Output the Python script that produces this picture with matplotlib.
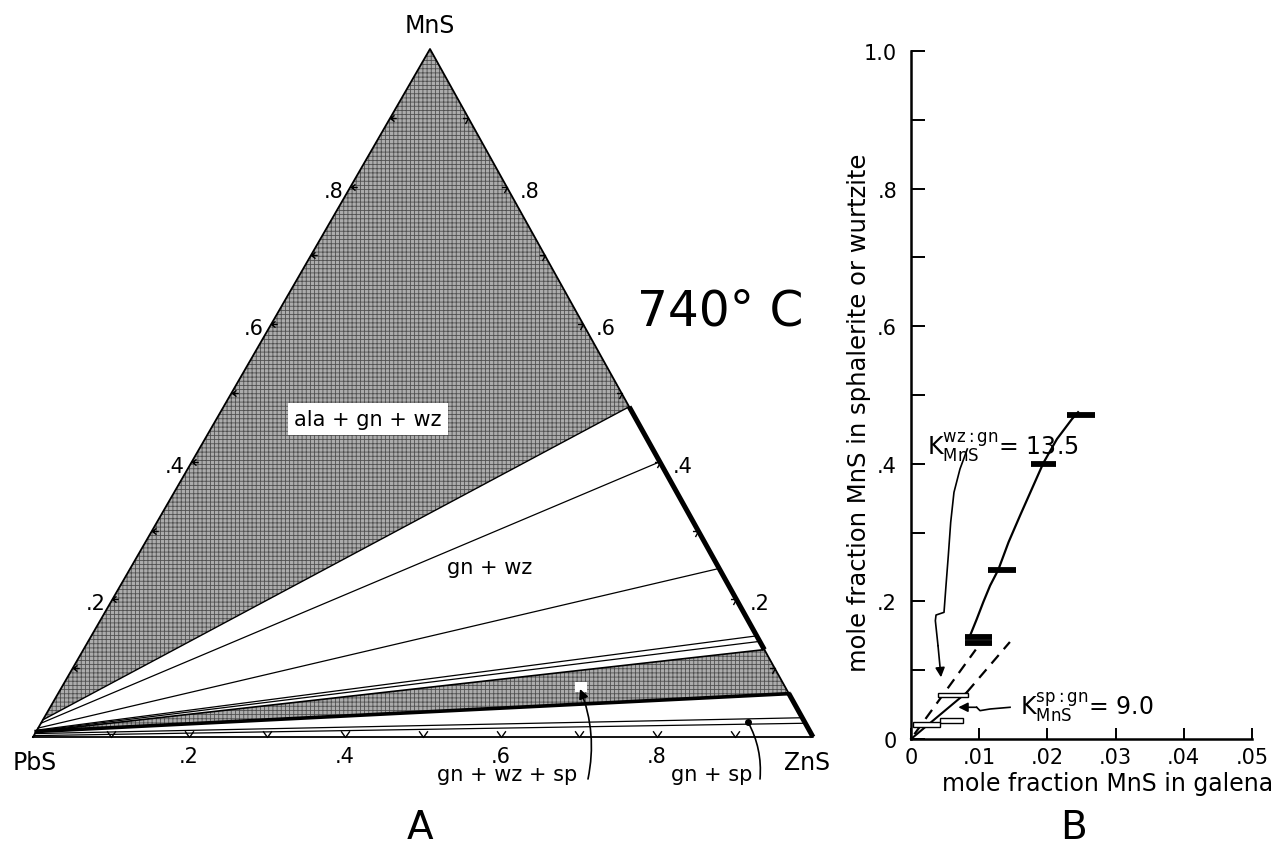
import matplotlib
matplotlib.use('Agg')
import matplotlib.pyplot as plt
from matplotlib.path import Path
from matplotlib.patches import Polygon, Rectangle

plt.rcParams['font.family'] = ['DejaVu Sans']
plt.rcParams['hatch.linewidth'] = 0.6
plt.rcParams['mathtext.default'] = 'regular'

W, H = 1274, 854

# ---------------- Panel A data: PbS-ZnS-MnS at 740 C (mole fraction MnS) ----------------
corner_names = ['PbS', 'ZnS', 'MnS']
tri_tick_vals = [0.2, 0.4, 0.6, 0.8]
tri_tick_labels = ['.2', '.4', '.6', '.8']
tri_minor_vals = [0.1, 0.2, 0.3, 0.4, 0.5, 0.6, 0.7, 0.8, 0.9]
# three-phase field ala + gn + wz (MnS in galena, MnS in wurtzite)
ala_gn_wz_gn = 0.025
ala_gn_wz_wz = 0.48
# tie lines gn + wz
tie_wz_gn = [0.020, 0.013, 0.010, 0.009]
tie_wz_wz = [0.40, 0.245, 0.147, 0.139]
# three-phase field gn + wz + sp
gn_wz_sp_gn = 0.008
gn_wz_sp_wz = 0.127
gn_wz_sp_sp = 0.063
# tie lines gn + sp
tie_sp_gn = [0.005, 0.002]
tie_sp_sp = [0.028, 0.020]
# solid-solution ranges on the ZnS-MnS join
wz_range = [0.127, 0.48]
sp_range = [0.0, 0.063]

# ---------------- Panel B data ----------------
xb_ticks = [0.0, 0.01, 0.02, 0.03, 0.04, 0.05]
xb_labels = ['0', '.01', '.02', '.03', '.04', '.05']
yb_ticks = [0.0, 0.2, 0.4, 0.6, 0.8, 1.0]
yb_labels = ['0', '.2', '.4', '.6', '.8', '1.0']
yb_minor = [0.1, 0.3, 0.5, 0.7, 0.9]
# wurtzite - galena pairs (filled bars)
wz_bar_y = [0.471, 0.400, 0.245, 0.148, 0.139]
wz_bar_lo = [0.0229, 0.0176, 0.0113, 0.0079, 0.0079]
wz_bar_hi = [0.0270, 0.0213, 0.0154, 0.0119, 0.0119]
# sphalerite - galena pairs (open bars)
sp_bar_y = [0.064, 0.0265, 0.021]
sp_bar_lo = [0.0040, 0.0043, 0.0003]
sp_bar_hi = [0.0084, 0.0076, 0.0043]
# curve through wurtzite data
wz_curve_x = [0.00865, 0.00963, 0.0106, 0.0116, 0.0128, 0.0143, 0.0160, 0.0177, 0.0194, 0.0214, 0.0236, 0.0245]
wz_curve_y = [0.150, 0.174, 0.199, 0.223, 0.246, 0.286, 0.325, 0.363, 0.401, 0.436, 0.465, 0.475]
# sphalerite line (solid) and K lines (dashed)
sp_line_x = [0.0, 0.0082]
sp_line_y = [0.0, 0.068]
sp_dash_x = [0.0082, 0.0145]
sp_dash_y = [0.068, 0.141]
wz_dash_x = [0.0005, 0.0095]
wz_dash_y = [0.007, 0.130]
# annotation arrows
k_wz_arrow_x = [0.00826, 0.00718, 0.00630, 0.00582, 0.00547, 0.00513, 0.00484, 0.00367, 0.00357, 0.00396, 0.00440]
k_wz_arrow_y = [0.4215, 0.3924, 0.3585, 0.3149, 0.2665, 0.2229, 0.1841, 0.1802, 0.1720, 0.1357, 0.0897]
k_sp_arrow_x = [0.01452, 0.01158, 0.01012, 0.00963, 0.00694]
k_sp_arrow_y = [0.0461, 0.0436, 0.0412, 0.0461, 0.0461]

fig = plt.figure(figsize=(12.74, 8.54), dpi=100)

# ================= Panel A =================
TX0, TX1, TY0, TY1 = 33, 813, 738, 50
apex = (430 - TX0) / (TX1 - TX0)
ax = fig.add_axes([TX0 / W, (H - TY0) / H, (TX1 - TX0) / W, (TY0 - TY1) / H])
ax.set_xlim(0, 1)
ax.set_ylim(0, 1)
ax.axis('off')


def tern(z, m):
    return (z + apex * m, m)


def gn(m):
    return tern(0.0, m)


def join(m):
    return tern(1.0 - m, m)


def tpx(px, py):
    return ((px - TX0) / (TX1 - TX0), (TY0 - py) / (TY0 - TY1))


face = '#acacac'
hatchc = '#505050'


def shade(pts):
    ax.add_patch(Polygon(pts, closed=True, facecolor=face, edgecolor='none', zorder=1, clip_on=False))
    ax.add_patch(Polygon(pts, closed=True, fill=False, edgecolor=hatchc, hatch='++++', lw=0, zorder=1.1, clip_on=False))


# ala + gn + wz
shade([gn(ala_gn_wz_gn), tern(0, 1), join(ala_gn_wz_wz)])
# gn + wz + sp
shade([gn(gn_wz_sp_gn), join(gn_wz_sp_wz), join(gn_wz_sp_sp)])

# triangle outline
P, Z, M = tern(0, 0), tern(1, 0), tern(0, 1)
ax.plot([P[0], Z[0], M[0], P[0]], [P[1], Z[1], M[1], P[1]], color='k', lw=1.3, zorder=3, clip_on=False)

# boundaries and tie lines
for g, w, lw in [(ala_gn_wz_gn, ala_gn_wz_wz, 1.0), (gn_wz_sp_gn, gn_wz_sp_wz, 1.2)]:
    a, b = gn(g), join(w)
    ax.plot([a[0], b[0]], [a[1], b[1]], color='k', lw=lw, zorder=3, clip_on=False)
a, b = gn(gn_wz_sp_gn), join(gn_wz_sp_sp)
ax.plot([a[0], b[0]], [a[1], b[1]], color='k', lw=2.6, zorder=3, clip_on=False)
for g, w in zip(tie_wz_gn + tie_sp_gn, tie_wz_wz + tie_sp_sp):
    a, b = gn(g), join(w)
    ax.plot([a[0], b[0]], [a[1], b[1]], color='k', lw=0.9, zorder=3, clip_on=False)

# solid solutions (thick)
for rng in (wz_range, sp_range):
    a, b = join(rng[0]), join(rng[1])
    ax.plot([a[0], b[0]], [a[1], b[1]], color='k', lw=3.6, zorder=4, solid_capstyle='butt', clip_on=False)

# edge tick marks
v_mark = Path([(-0.7, 1.0), (0, 0), (0.7, 1.0)], [Path.MOVETO, Path.LINETO, Path.LINETO])
l_mark = Path([(0.9, 0.7), (0, 0), (0.9, -0.7), (0, 0), (1.4, 0)],
              [Path.MOVETO, Path.LINETO, Path.LINETO, Path.MOVETO, Path.LINETO])
r_mark = Path([(-1.0, 0), (0, 0), (-0.55, -1.0)], [Path.MOVETO, Path.LINETO, Path.LINETO])
for t in tri_minor_vals:
    bx, by = tern(t, 0)
    ax.plot([bx], [by], marker=v_mark, ms=9, mfc='none', mec='k', mew=1.0, zorder=5, clip_on=False)
    lx, ly = gn(t)
    ax.plot([lx], [ly], marker=l_mark, ms=9, mfc='none', mec='k', mew=1.0, zorder=5, clip_on=False)
    rx, ry = join(t)
    ax.plot([rx], [ry], marker=r_mark, ms=8, mfc='none', mec='k', mew=1.0, zorder=5, clip_on=False)

# tick labels
for t, lab in zip(tri_tick_vals, tri_tick_labels):
    x, y = tern(t, 0)
    ax.annotate(lab, (x, y), xytext=(0, -19), textcoords='offset pixels', ha='center', va='center', fontsize=15)
    x, y = gn(t)
    ax.annotate(lab, (x, y), xytext=(-7, -4), textcoords='offset pixels', ha='right', va='center', fontsize=15)
    x, y = join(t)
    ax.annotate(lab, (x, y), xytext=(13, -4), textcoords='offset pixels', ha='left', va='center', fontsize=15)

# corner labels
ax.text(*tpx(35, 763), corner_names[0], ha='center', va='center', fontsize=17)
ax.text(*tpx(807, 763), corner_names[1], ha='center', va='center', fontsize=17)
ax.text(*tpx(430, 26), corner_names[2], ha='center', va='center', fontsize=17)

# field labels
ax.text(*tpx(720, 326), '740° C', ha='center', va='baseline', fontsize=35)
ax.text(*tpx(368, 420), 'ala + gn + wz', ha='center', va='center', fontsize=15, zorder=6,
        bbox=dict(boxstyle='square,pad=0.3', facecolor='white', edgecolor='none'))
ax.text(*tpx(490, 568), 'gn + wz', ha='center', va='center', fontsize=15, zorder=6)
ax.text(*tpx(507, 775), 'gn + wz + sp', ha='center', va='center', fontsize=15)
ax.text(*tpx(712, 775), 'gn + sp', ha='center', va='center', fontsize=15)

# label arrows
ax.annotate('', xy=tpx(580, 690), xytext=tpx(588, 780),
            arrowprops=dict(arrowstyle='-|>', color='k', lw=1.2, mutation_scale=14,
                            connectionstyle='arc3,rad=0.15', shrinkA=0, shrinkB=0), zorder=7)
ax.annotate('', xy=tpx(748, 723), xytext=tpx(760, 780),
            arrowprops=dict(arrowstyle='-', color='k', lw=1.2,
                            connectionstyle='arc3,rad=0.15', shrinkA=0, shrinkB=0), zorder=7)
ax.plot(*tpx(748, 723), 'ko', ms=4, zorder=7, clip_on=False)
ax.add_patch(Rectangle(tpx(575, 693), 12 / 780, 10 / 688, facecolor='white', edgecolor='none', zorder=2))

fig.text(420 / W, 1 - 828 / H, 'A', ha='center', va='center', fontsize=28)
fig.text(1073 / W, 1 - 828 / H, 'B', ha='center', va='center', fontsize=28)

# ================= Panel B =================
BX0, BX1, BY0, BY1 = 911, 1252, 740, 52
axb = fig.add_axes([BX0 / W, (H - BY0) / H, (BX1 - BX0) / W, (BY0 - BY1) / H])
axb.patch.set_visible(False)
axb.set_xlim(0, 0.05)
axb.set_ylim(0, 1.0)
for s in ('top', 'right'):
    axb.spines[s].set_visible(False)
for s in ('left', 'bottom'):
    axb.spines[s].set_linewidth(1.8)
axb.set_xticks(xb_ticks)
axb.set_xticklabels(xb_labels)
axb.set_yticks(yb_ticks)
axb.set_yticklabels(yb_labels)
axb.set_yticks(yb_minor, minor=True)
axb.tick_params(axis='y', which='both', direction='in', length=10, width=1.4, labelsize=15, pad=10)
axb.tick_params(axis='x', which='both', direction='in', length=8, width=1.4, labelsize=15, pad=6)
axb.set_xlabel('mole fraction MnS in galena', fontsize=17)
axb.xaxis.set_label_coords((1108 - BX0) / (BX1 - BX0), (BY0 - 772) / (BY0 - BY1))
axb.set_ylabel('mole fraction MnS in sphalerite or wurtzite', fontsize=17.5)
axb.yaxis.set_label_coords((871 - BX0) / (BX1 - BX0), (BY0 - 413) / (BY0 - BY1))

axb.plot(wz_curve_x, wz_curve_y, color='k', lw=1.6, zorder=3)
axb.plot(sp_line_x, sp_line_y, color='k', lw=1.5, zorder=3, clip_on=False)
axb.plot(sp_dash_x, sp_dash_y, color='k', lw=1.6, ls=(0, (5, 3.5)), zorder=3)
axb.plot(wz_dash_x, wz_dash_y, color='k', lw=1.6, ls=(0, (5, 3.5)), zorder=3)
axb.hlines(wz_bar_y, wz_bar_lo, wz_bar_hi, color='k', lw=4.2, zorder=4)
for y, lo, hi in zip(sp_bar_y, sp_bar_lo, sp_bar_hi):
    axb.add_patch(Rectangle((lo, y - 0.0035), hi - lo, 0.007, facecolor='white', edgecolor='k', lw=1.0,
                            zorder=5, clip_on=False))

# K annotations
axb.text(0.0023, 0.4256, r'$K^{wz:gn}_{MnS}$= 13.5', fontsize=17, ha='left', va='center')
axb.plot(k_wz_arrow_x[:-1], k_wz_arrow_y[:-1], color='k', lw=1.2)
axb.annotate('', xy=(k_wz_arrow_x[-1], k_wz_arrow_y[-1]), xytext=(k_wz_arrow_x[-2], k_wz_arrow_y[-2]),
             arrowprops=dict(arrowstyle='-|>', color='k', lw=1.2, mutation_scale=14, shrinkA=0, shrinkB=0))
axb.text(0.0160, 0.0480, r'$K^{sp:gn}_{MnS}$= 9.0', fontsize=17, ha='left', va='center')
axb.plot(k_sp_arrow_x[:-1], k_sp_arrow_y[:-1], color='k', lw=1.2)
axb.annotate('', xy=(k_sp_arrow_x[-1], k_sp_arrow_y[-1]), xytext=(k_sp_arrow_x[-2], k_sp_arrow_y[-2]),
             arrowprops=dict(arrowstyle='-|>', color='k', lw=1.2, mutation_scale=14, shrinkA=0, shrinkB=0))

fig.savefig('out.png', dpi=100)
